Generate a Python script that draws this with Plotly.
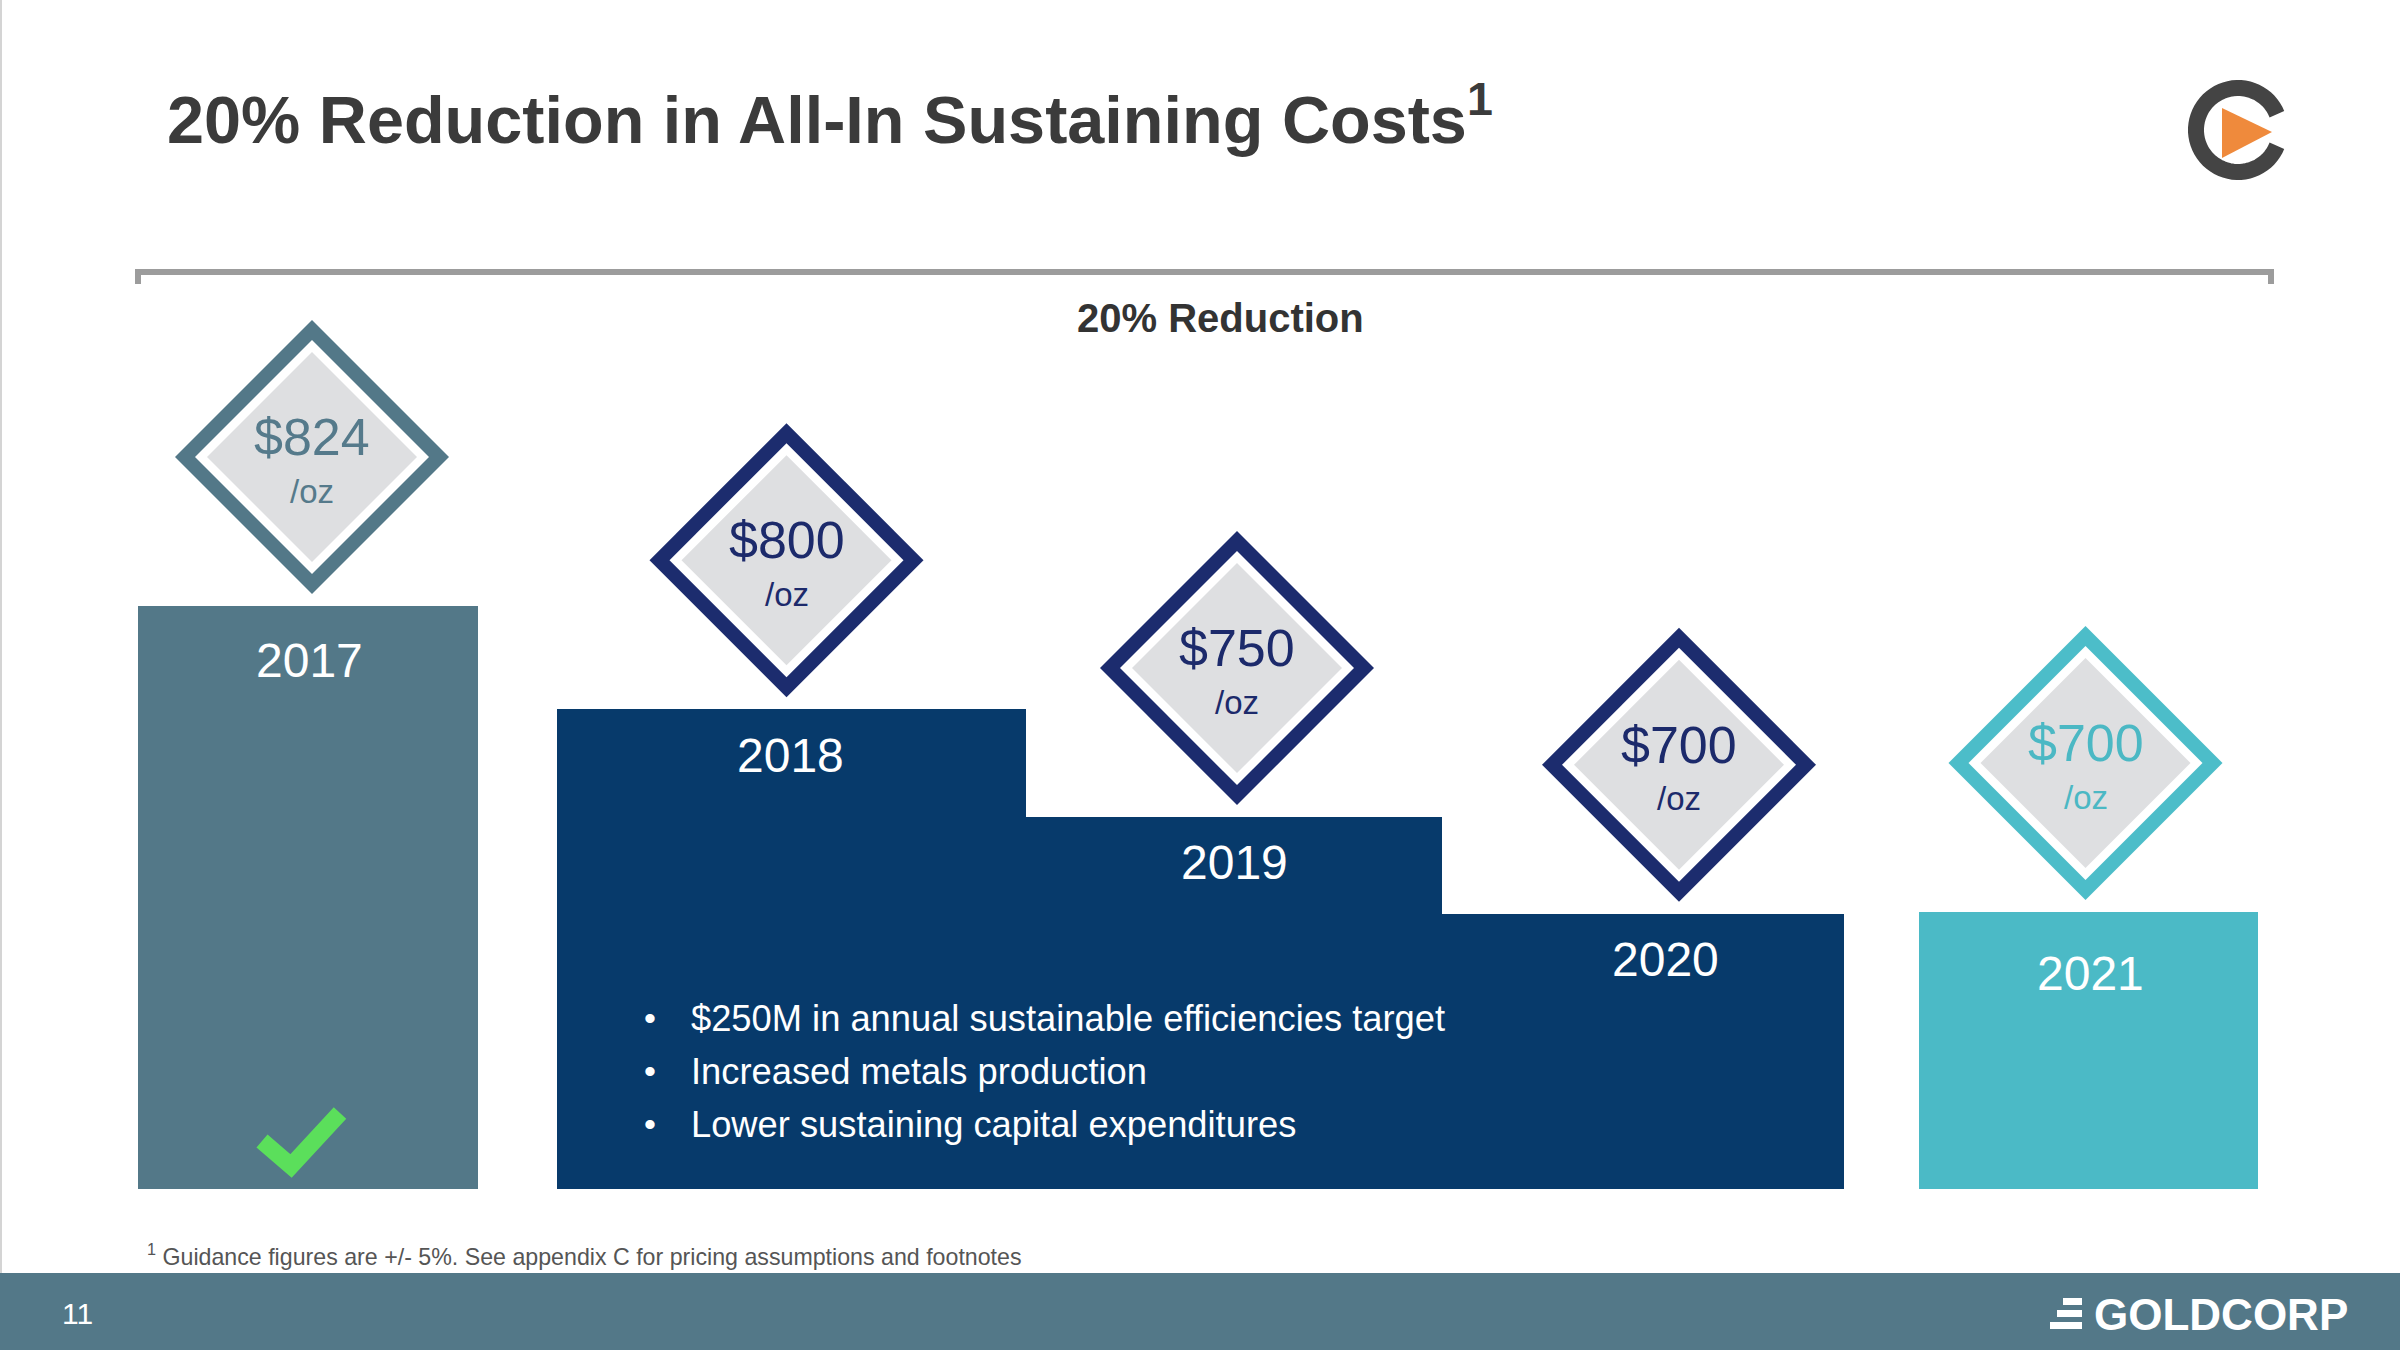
import numpy as np
import plotly.graph_objects as go

# ---- data ----
years = ["2017", "2018", "2019", "2020", "2021"]
aisc = [824, 800, 750, 700, 700]            # all-in sustaining cost, $/oz
step_level = [100, 82.3, 63.8, 47.2, 47.5]  # bar height as drawn on the slide (2017 = 100)
bullets = [
    "$250M in annual sustainable efficiencies target",
    "Increased metals production",
    "Lower sustaining capital expenditures",
]
title = "20% Reduction in All-In Sustaining Costs"
bracket_label = "20% Reduction"
footnote = "Guidance figures are +/- 5%. See appendix C for pricing assumptions and footnotes"
page_no = "11"

# ---- styling / slide geometry (px on a 2400x1350 slide) ----
W, H = 2400, 1350
FONT = "Liberation Sans, Arial, Helvetica, sans-serif"
SLATE = "#537888"
NAVY = "#073A6B"
TEAL = "#4BBAC6"
bar_colors = [SLATE, NAVY, NAVY, NAVY, TEAL]
ring_colors = ["#537888", "#1C2C6E", "#1C2C6E", "#1C2C6E", "#4CBDC9"]
price_colors = ["#557A8B", "#1C2A6B", "#1C2A6B", "#1C2A6B", "#4BB8C4"]

bar_left = [138, 557, 1026, 1442, 1919]
bar_right = [478, 1026, 1442, 1844, 2258]
bar_bottom = 1189
px_per_level = 583 / 100
diamond_dx = [4, -5, 3, 36, -3]
label_dx = [1, -1, 0, 22, 2]
label_drop = [54, 46, 45, 46, 61]

centers = [(l + r) / 2 for l, r in zip(bar_left, bar_right)]
widths = [r - l for l, r in zip(bar_left, bar_right)]
y_lo = -(H - bar_bottom) / px_per_level
y_hi = bar_bottom / px_per_level

half = 137          # diamond half-diagonal, px
gap = 12            # space between diamond tip and bar top, px
d_x = [c + dx for c, dx in zip(centers, diamond_dx)]
d_y = [lv + (gap + half) / px_per_level for lv in step_level]

fig = go.Figure()

fig.add_trace(go.Bar(
    x=centers, y=step_level, width=widths, base=0,
    marker=dict(color=bar_colors, line_width=0),
    hoverinfo="skip", showlegend=False,
))

# diamonds: coloured frame, white gap, grey face
for size, col in [(half / 0.65, ring_colors),
                  ((half - 20) / 0.65, "white"),
                  ((half - 32) / 0.65, "#DEDFE1")]:
    fig.add_trace(go.Scatter(
        x=d_x, y=d_y, mode="markers",
        marker=dict(symbol="diamond", size=size, color=col, line_width=0),
        hoverinfo="skip", showlegend=False,
    ))

# dummy trace so the pixel axis exists
fig.add_trace(go.Scatter(x=[None], y=[None], yaxis="y2", showlegend=False))

ann = []
for i, yr in enumerate(years):
    ann.append(dict(x=d_x[i], y=d_y[i], xref="x", yref="y", text=f"${aisc[i]}",
                    showarrow=False, yshift=20,
                    font=dict(family=FONT, size=52, color=price_colors[i])))
    ann.append(dict(x=d_x[i], y=d_y[i], xref="x", yref="y", text="/oz",
                    showarrow=False, yshift=-34,
                    font=dict(family=FONT, size=33, color=price_colors[i])))
    ann.append(dict(x=centers[i] + label_dx[i], y=step_level[i], xref="x", yref="y",
                    text=yr, showarrow=False, yshift=-label_drop[i],
                    font=dict(family=FONT, size=48, color="white")))

for j, b in enumerate(bullets):
    yy = 1018 + 53 * j
    ann.append(dict(x=650, y=yy, xref="x", yref="y2", text="•", showarrow=False,
                    xanchor="center", font=dict(family=FONT, size=34, color="white")))
    ann.append(dict(x=689, y=yy, xref="x", yref="y2", text=b, showarrow=False,
                    xanchor="left", font=dict(family=FONT, size=36.3, color="white")))

ann += [
    dict(x=165, y=115, xref="x", yref="y2", xanchor="left", showarrow=False,
         text=f"<b>{title}<sup>1</sup></b>",
         font=dict(family=FONT, size=66.6, color="#3B3B3B")),
    dict(x=1220, y=318, xref="x", yref="y2", showarrow=False,
         text=f"<b>{bracket_label}</b>",
         font=dict(family=FONT, size=40, color="#333333")),
    dict(x=145, y=1255, xref="x", yref="y2", xanchor="left", showarrow=False,
         text=f"<sup>1</sup> {footnote}",
         font=dict(family=FONT, size=23.2, color="#555555")),
    dict(x=60, y=1313, xref="x", yref="y2", xanchor="left", showarrow=False,
         text=page_no, font=dict(family=FONT, size=30, color="white")),
    dict(x=2092, y=1314, xref="x", yref="y2", xanchor="left", showarrow=False,
         text="<b>GOLDCORP</b>", font=dict(family=FONT, size=44, color="white")),
]

shapes = [
    # left edge hairline
    dict(type="line", x0=1, x1=1, y0=0, y1=1273, xref="x", yref="y2",
         line=dict(color="#D4D4D4", width=2)),
    # bracket over the bars
    dict(type="path", xref="x", yref="y2",
         path="M138,284 L138,272 L2271,272 L2271,284",
         line=dict(color="#9C9C9C", width=6)),
    # footer band
    dict(type="rect", x0=0, x1=W, y0=1273, y1=H, xref="x", yref="y2",
         fillcolor="#537888", line_width=0, layer="below"),
    # check mark on 2017
    dict(type="path", xref="x", yref="y2",
         path="M262,1141 L291,1166 L340,1113",
         line=dict(color="#5BDF5B", width=17)),
]
# goldcorp bars
for x0, y0, y1 in [(2063, 1298, 1305), (2057, 1310, 1317), (2050, 1322, 1329)]:
    shapes.append(dict(type="rect", x0=x0, x1=2082, y0=y0, y1=y1, xref="x", yref="y2",
                       fillcolor="white", line_width=0))

# corner logo: open ring with play triangle
cx, cy, r = 2238, 130, 42
th = np.radians(np.linspace(22, 338, 60))
ring = "M" + " L".join(f"{cx + r * np.cos(t):.1f},{cy - r * np.sin(t):.1f}" for t in th)
shapes.append(dict(type="path", path=ring, xref="x", yref="y2",
                   line=dict(color="#444444", width=16)))
shapes.append(dict(type="path", path="M2222,108 L2272,132 L2222,158 Z", xref="x", yref="y2",
                   fillcolor="#EF8A3C", line_width=0))

fig.update_layout(
    width=W, height=H,
    margin=dict(l=0, r=0, t=0, b=0),
    paper_bgcolor="white", plot_bgcolor="white",
    xaxis=dict(range=[0, W], visible=False, fixedrange=True),
    yaxis=dict(range=[y_lo, y_hi], visible=False, fixedrange=True),
    yaxis2=dict(range=[H, 0], overlaying="y", visible=False, fixedrange=True),
    annotations=ann,
    shapes=shapes,
    bargap=0,
)

# the page body has a default margin; drop it so the slide fills the window
fig.write_html("out.html", config={"displayModeBar": False},
               post_script="document.body.style.margin='0';")
